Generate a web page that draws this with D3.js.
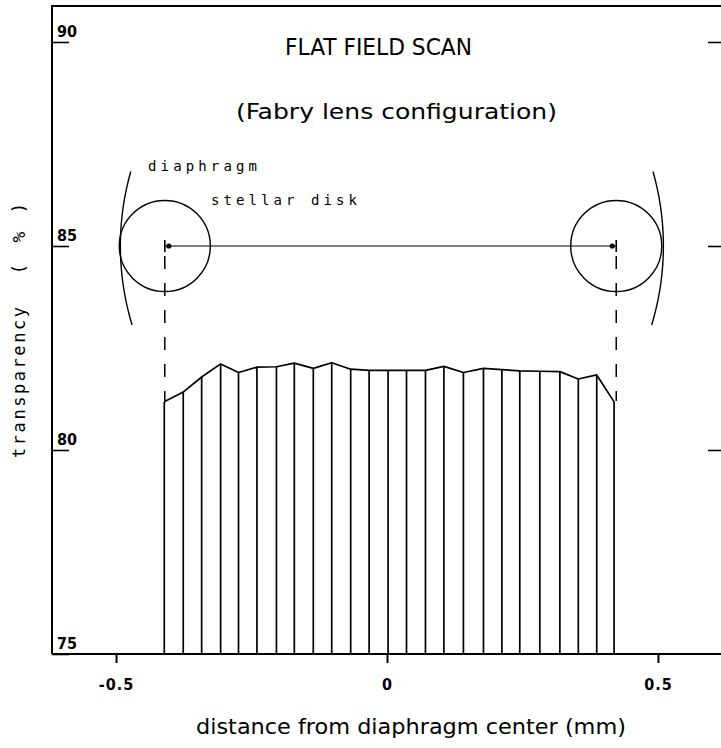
<!DOCTYPE html>
<html>
<head>
<meta charset="utf-8">
<script src="https://cdn.jsdelivr.net/npm/d3@7"></script>
<style>
  html, body { margin: 0; padding: 0; background: #fff; }
  svg { display: block; }
</style>
</head>
<body>
<div id="chart"></div>
<script>
// ---- data ----
const distance = [-0.411, -0.376, -0.342, -0.307, -0.274, -0.240, -0.204, -0.171, -0.136, -0.102,
                  -0.067, -0.033, 0.002, 0.036, 0.071, 0.105, 0.141, 0.178, 0.212, 0.245,
                  0.282, 0.319, 0.353, 0.387, 0.419];
const transparency = [81.18, 81.42, 81.79, 82.11, 81.90, 82.03, 82.04, 82.13, 82.00, 82.14,
                      81.98, 81.95, 81.95, 81.95, 81.95, 82.05, 81.90, 82.00, 81.97, 81.94,
                      81.93, 81.92, 81.74, 81.84, 81.18];
const xTicks = [-0.5, 0, 0.5];
const xTickLabels = ["-0.5", "0", "0.5"];
const yTicks = [75, 80, 85, 90];
const yTickLabels = ["75", "80", "85", "90"];
const rightTicks = [80, 85, 90];
const diskCenters = [-0.410, 0.423];   // stellar disk centres (mm)
const diskRadius = 0.084;              // mm
const diaphragmCenter = 0.009;         // mm
const diaphragmRadius = 0.501;         // mm
const schemeLevel = 85;                // drawing level of the scheme (%)
const titleText = "FLAT FIELD SCAN";
const subtitleText = "(Fabry lens configuration)";
const xTitle = "distance from diaphragm center (mm)";
const yTitle = "transparency";

// ---- setup ----
(function () {
const W = 721, H = 748;
const svg = d3.select("#chart").append("svg").attr("width", W).attr("height", H);
const x = d3.scaleLinear().domain([-0.62, 0.62]).range([51, 723]);
const y = d3.scaleLinear().domain([75, 90]).range([654, 42]);
const fLeft = 52, fRight = 721, fTop = 6, fBottom = y(75);
const condensed = "'DejaVu Sans Condensed','Liberation Sans Narrow','DejaVu Sans',sans-serif";
const mono = "'DejaVu Sans Mono','Liberation Mono',monospace";

// frame
svg.append("path")
  .attr("d", `M${fLeft},${fBottom}V${fTop}H${fRight}`)
  .attr("fill", "none").attr("stroke", "#000").attr("stroke-width", 2);
svg.append("line").attr("x1", fLeft).attr("x2", fRight).attr("y1", fBottom).attr("y2", fBottom)
  .attr("stroke", "#000").attr("stroke-width", 2);

// x axis
const xAxis = svg.append("g").attr("transform", `translate(0,${fBottom})`)
  .call(d3.axisBottom(x).tickValues(xTicks).tickFormat((d, i) => xTickLabels[i]).tickSize(9).tickPadding(16));
xAxis.select(".domain").remove();
xAxis.selectAll("line").attr("stroke", "#000").attr("stroke-width", 2);
xAxis.selectAll("text").attr("font-family", condensed).attr("font-weight", "bold")
  .attr("font-size", 16).attr("fill", "#000").attr("letter-spacing", 1);

// y axis (ticks inward, labels inside)
const yAxis = svg.append("g").attr("transform", `translate(${fLeft},0)`)
  .call(d3.axisRight(y).tickValues(yTicks).tickFormat((d, i) => yTickLabels[i]).tickSize(17));
yAxis.select(".domain").remove();
yAxis.selectAll("line").attr("stroke", "#000").attr("stroke-width", 1.6);
yAxis.selectAll("text").attr("x", 5).attr("dy", "-0.35em").attr("text-anchor", "start")
  .attr("font-family", condensed).attr("font-weight", "bold").attr("font-size", 16).attr("fill", "#000");

// right ticks
const rAxis = svg.append("g").attr("transform", `translate(${fRight},0)`)
  .call(d3.axisLeft(y).tickValues(rightTicks).tickFormat("").tickSize(13));
rAxis.select(".domain").remove();
rAxis.selectAll("line").attr("stroke", "#000").attr("stroke-width", 1.6);

// bars
svg.append("g").selectAll("line").data(distance).join("line")
  .attr("x1", d => x(d)).attr("x2", d => x(d))
  .attr("y1", y(75)).attr("y2", (d, i) => y(transparency[i]))
  .attr("stroke", "#000").attr("stroke-width", 1.7);

// profile
const line = d3.line().x((d, i) => x(distance[i])).y(d => y(d));
svg.append("path").datum(transparency).attr("d", line)
  .attr("fill", "none").attr("stroke", "#000").attr("stroke-width", 1.7).attr("stroke-linejoin", "round");

// scheme: stellar disks
const pxPerMm = x(1) - x(0);
const cy = y(schemeLevel);
svg.append("g").selectAll("circle").data(diskCenters).join("circle")
  .attr("cx", d => x(d)).attr("cy", cy).attr("r", diskRadius * pxPerMm)
  .attr("fill", "none").attr("stroke", "#000").attr("stroke-width", 1.4);

// diaphragm arcs
const R = diaphragmRadius * pxPerMm, dcx = x(diaphragmCenter);
function arcPath(a0, a1) {
  const p = d3.path();
  const n = 30;
  for (let k = 0; k <= n; k++) {
    const a = a0 + (a1 - a0) * k / n;
    const px = dcx + R * Math.cos(a), py = cy + R * Math.sin(a);
    if (k === 0) p.moveTo(px, py); else p.lineTo(px, py);
  }
  return p.toString();
}
svg.append("path").attr("d", arcPath(Math.PI - 0.295, Math.PI + 0.278))
  .attr("fill", "none").attr("stroke", "#000").attr("stroke-width", 1.4);
svg.append("path").attr("d", arcPath(-0.278, 0.295))
  .attr("fill", "none").attr("stroke", "#000").attr("stroke-width", 1.4);

// horizontal line between disk centres with end marks
svg.append("line").attr("x1", x(diskCenters[0])).attr("x2", x(diskCenters[1]))
  .attr("y1", cy).attr("y2", cy).attr("stroke", "#000").attr("stroke-width", 1.2);
svg.append("g").selectAll("line").data(diskCenters).join("line")
  .attr("x1", d => x(d)).attr("x2", d => x(d)).attr("y1", cy - 6).attr("y2", cy + 6)
  .attr("stroke", "#000").attr("stroke-width", 1.6);
svg.append("g").selectAll("circle").data(diskCenters).join("circle")
  .attr("cx", (d, i) => x(d) + (i === 0 ? 4 : -4)).attr("cy", cy).attr("r", 2.6).attr("fill", "#000");

// dashed drop lines
svg.append("g").selectAll("line").data(diskCenters).join("line")
  .attr("x1", d => x(d)).attr("x2", d => x(d))
  .attr("y1", cy + 10).attr("y2", y(81.2))
  .attr("stroke", "#000").attr("stroke-width", 1.5).attr("stroke-dasharray", "13,14");

// texts
svg.append("text").attr("x", 285).attr("y", 55).text(titleText)
  .attr("font-family", condensed).attr("font-size", 23).attr("fill", "#000")
  .attr("textLength", 187).attr("lengthAdjust", "spacingAndGlyphs");
svg.append("text").attr("x", 236).attr("y", 119).text(subtitleText)
  .attr("font-family", condensed).attr("font-size", 21).attr("fill", "#000")
  .attr("textLength", 321).attr("lengthAdjust", "spacingAndGlyphs");
svg.append("text").attr("x", 148).attr("y", 171).text("diaphragm")
  .attr("font-family", mono).attr("font-size", 14).attr("fill", "#000")
  .attr("textLength", 109).attr("lengthAdjust", "spacing");
svg.append("text").attr("x", 211).attr("y", 205).text("stellar disk")
  .attr("font-family", mono).attr("font-size", 14).attr("fill", "#000")
  .attr("textLength", 146).attr("lengthAdjust", "spacing");
svg.append("text").attr("x", 196).attr("y", 734).text(xTitle)
  .attr("font-family", condensed).attr("font-size", 21).attr("fill", "#000")
  .attr("textLength", 430).attr("lengthAdjust", "spacingAndGlyphs");

// y title (rotated)
const yt = svg.append("g").attr("transform", "translate(25,0) rotate(-90)");
yt.append("text").attr("x", -458).attr("y", 0).text(yTitle)
  .attr("font-family", mono).attr("font-size", 17).attr("fill", "#000")
  .attr("textLength", 151).attr("lengthAdjust", "spacing");
[["(", 269], ["%", 237], [")", 208]].forEach(([t, py]) => {
  yt.append("text").attr("x", -py).attr("y", 0).attr("text-anchor", "middle").text(t)
    .attr("font-family", mono).attr("font-size", 18).attr("fill", "#000");
});
})();
</script>
</body>
</html>
